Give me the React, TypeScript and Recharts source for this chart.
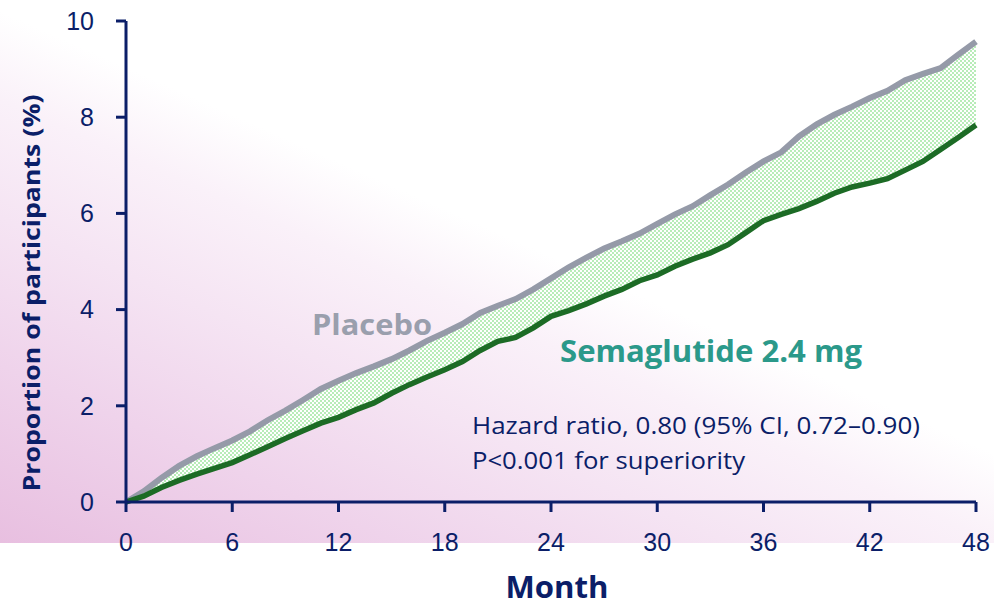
import React from "react";
import { ComposedChart, Line, Area, XAxis, YAxis } from "recharts";

const months = [0,1,2,3,4,5,6,7,8,9,10,11,12,13,14,15,16,17,18,19,20,21,22,23,24,25,26,27,28,29,30,31,32,33,34,35,36,37,38,39,40,41,42,43,44,45,46,47,48];
const placebo = [0,0.22,0.5,0.75,0.95,1.12,1.28,1.47,1.7,1.9,2.12,2.35,2.52,2.68,2.82,2.97,3.15,3.35,3.52,3.7,3.93,4.08,4.22,4.42,4.65,4.88,5.08,5.27,5.42,5.58,5.78,5.98,6.15,6.38,6.6,6.85,7.08,7.27,7.6,7.85,8.05,8.22,8.4,8.55,8.77,8.9,9.02,9.3,9.57];
const semaglutide = [0,0.12,0.3,0.45,0.58,0.7,0.82,0.98,1.15,1.32,1.48,1.64,1.76,1.92,2.06,2.26,2.44,2.6,2.75,2.92,3.15,3.34,3.42,3.62,3.86,3.98,4.12,4.28,4.42,4.6,4.72,4.9,5.05,5.18,5.35,5.6,5.85,5.98,6.1,6.25,6.42,6.55,6.63,6.72,6.9,7.08,7.33,7.58,7.84];
const xTicks = [0,6,12,18,24,30,36,42,48];
const yTicks = [0,2,4,6,8,10];

const data = months.map((m, i) => ({
  month: m,
  placebo: placebo[i],
  sema: semaglutide[i],
  band: [semaglutide[i], placebo[i]],
}));

const NAVY = "#0b1e68";
const FONT = "'Open Sans', sans-serif";

export default function App() {
  return (
    <div style={{ position: "absolute", left: 0, top: 0, width: 994, height: 606, background: "#fff" }}>
      <div
        style={{
          position: "absolute",
          left: 0,
          top: 0,
          width: 994,
          height: 543,
          background: "linear-gradient(24deg, #e8bfe0 0%, #efd3eb 18%, #f5e4f3 33%, #faf1f9 45%, #ffffff 54%)",
        }}
      />
      <div style={{ position: "absolute", left: 0, top: 0 }}>
        <ComposedChart
          width={994}
          height={606}
          data={data}
          margin={{ top: 21, right: 18, left: 66, bottom: 44 }}
        >
          <defs>
            <pattern id="checks" width="4" height="4" patternUnits="userSpaceOnUse">
              <rect x="0" y="0" width="4" height="4" fill="#ffffff" />
              <rect x="0" y="0" width="2" height="2" fill="#b8ecb8" />
              <rect x="2" y="2" width="2" height="2" fill="#b8ecb8" />
            </pattern>
          </defs>
          <XAxis
            dataKey="month"
            type="number"
            domain={[0, 48]}
            ticks={xTicks}
            interval={0}
            height={60}
            stroke={NAVY}
            strokeWidth={3}
            tickSize={10}
            tickMargin={21}
            tick={{ fill: NAVY, fontSize: 25, fontFamily: "Liberation Sans, Arial, sans-serif" }}
            tickLine={{ stroke: NAVY, strokeWidth: 3 }}
          />
          <YAxis
            type="number"
            domain={[0, 10]}
            ticks={yTicks}
            interval={0}
            width={60}
            stroke={NAVY}
            strokeWidth={3}
            tickSize={10}
            tickMargin={22}
            tick={{ fill: NAVY, fontSize: 25, fontFamily: "Liberation Sans, Arial, sans-serif" }}
            tickLine={{ stroke: NAVY, strokeWidth: 3 }}
          />
          <Area
            type="linear"
            dataKey="band"
            stroke="none"
            fill="url(#checks)"
            fillOpacity={1}
            isAnimationActive={false}
            activeDot={false}
          />
          <Line
            type="linear"
            dataKey="placebo"
            stroke="#959aa8"
            strokeWidth={6}
            dot={false}
            activeDot={false}
            isAnimationActive={false}
          />
          <Line
            type="linear"
            dataKey="sema"
            stroke="#1c6b25"
            strokeWidth={5.5}
            dot={false}
            activeDot={false}
            isAnimationActive={false}
          />
        </ComposedChart>
      </div>
      <svg
        width={994}
        height={606}
        style={{ position: "absolute", left: 0, top: 0, pointerEvents: "none" }}
      >
        <text
          transform="translate(30,293) rotate(-90)"
          textAnchor="middle"
          dominantBaseline="central"
          fill={NAVY}
          fontFamily={FONT}
          fontWeight={700}
          fontSize={24}
          textLength={397}
          lengthAdjust="spacingAndGlyphs"
        >
          Proportion of participants (%)
        </text>
        <text x={557} y={586} textAnchor="middle" dominantBaseline="central" fill={NAVY} fontFamily={FONT} fontWeight={700} fontSize={31} textLength={103} lengthAdjust="spacingAndGlyphs">
          Month
        </text>
        <text x={312} y={323} dominantBaseline="central" fill="#9a9fad" fontFamily={FONT} fontWeight={700} fontSize={29} textLength={120} lengthAdjust="spacingAndGlyphs">
          Placebo
        </text>
        <text x={560} y={350} dominantBaseline="central" fill="#2b998a" fontFamily={FONT} fontWeight={700} fontSize={30} textLength={302} lengthAdjust="spacingAndGlyphs">
          Semaglutide 2.4 mg
        </text>
        <text x={472} y={425} dominantBaseline="central" fill={NAVY} fontFamily={FONT} fontSize={23} textLength={448} lengthAdjust="spacingAndGlyphs">
          Hazard ratio, 0.80 (95% CI, 0.72–0.90)
        </text>
        <text x={472} y={460} dominantBaseline="central" fill={NAVY} fontFamily={FONT} fontSize={23} textLength={273} lengthAdjust="spacingAndGlyphs">
          P&lt;0.001 for superiority
        </text>
      </svg>
    </div>
  );
}
